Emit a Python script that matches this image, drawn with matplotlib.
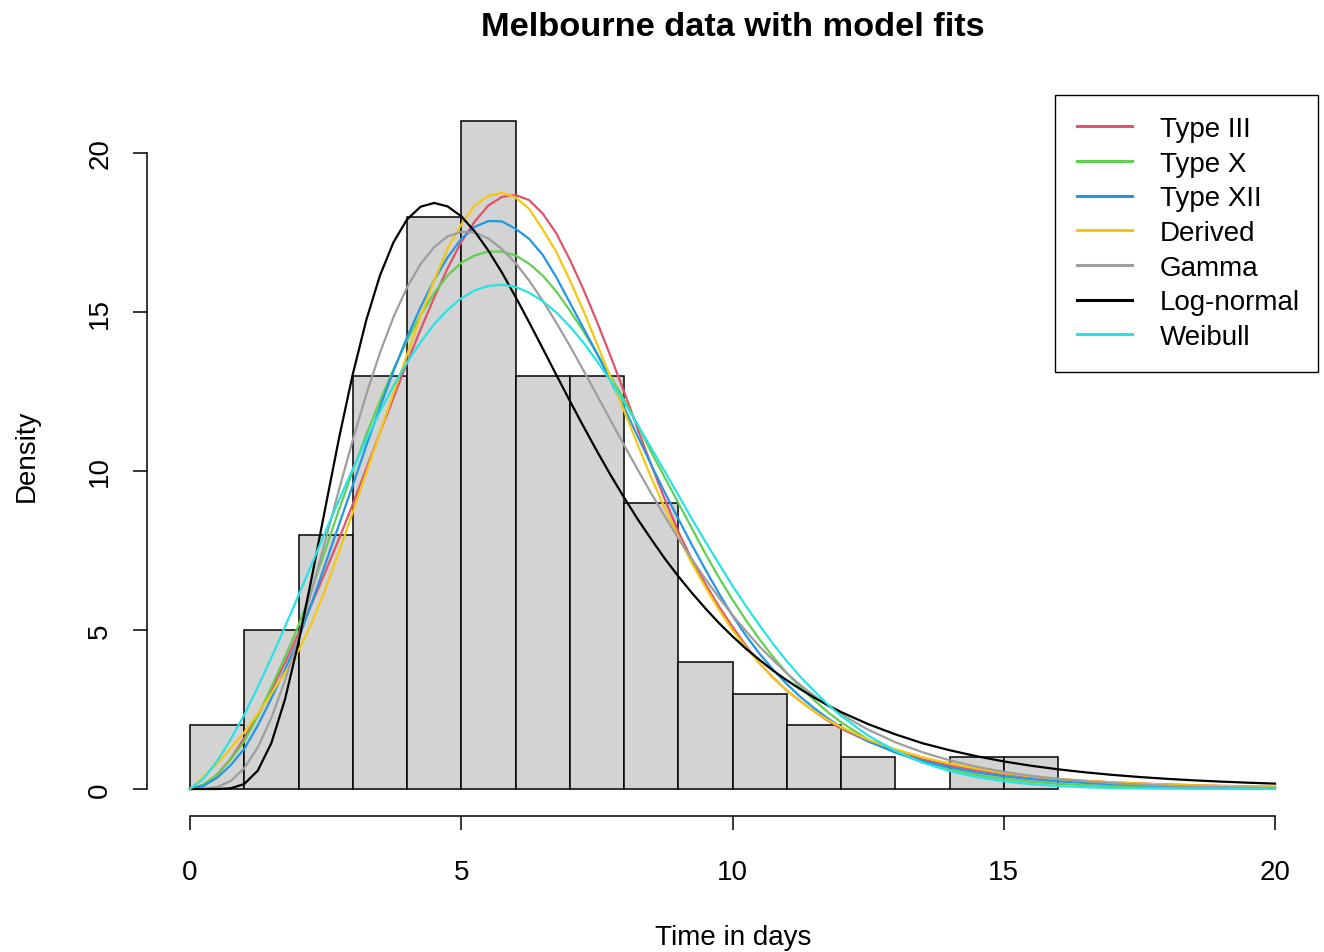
import numpy as np
import matplotlib.pyplot as plt

plt.rcParams['font.family'] = ['Liberation Sans', 'DejaVu Sans']

# histogram of the Melbourne data (counts per 1-day bin)
bin_left = list(range(0, 16))
counts = [2, 5, 8, 13, 18, 21, 13, 13, 9, 4, 3, 2, 1, 0, 1, 1]

# fitted curves: every quarter day up to 12, then every half day to 20
days = np.concatenate([np.linspace(0, 12, 49), np.linspace(12.5, 20, 16)])

type_iii = [0, 0.12, 0.45, 0.95, 1.6, 2.32, 3.1, 3.97, 4.9, 5.85, 6.85, 7.88, 8.95, 10.07,
            11.2, 12.3, 13.4, 14.45, 15.45, 16.38, 17.2, 17.85, 18.35, 18.62, 18.68, 18.52,
            18.1, 17.48, 16.65, 15.72, 14.7, 13.62, 12.5, 11.33, 10.2, 9.12, 8.1, 7.22, 6.45,
            5.74, 5.1, 4.5, 3.95, 3.5, 3.1, 2.76, 2.45, 2.16, 1.9,
            1.5, 1.18, 0.93, 0.74, 0.59, 0.47, 0.38, 0.31, 0.255, 0.21, 0.175, 0.145, 0.12,
            0.10, 0.085, 0.07]
type_x = [0, 0.14, 0.45, 0.93, 1.5, 2.3, 3.2, 4.15, 5.14, 6.32, 7.55, 8.8, 10.0, 11.15, 12.2,
          13.2, 14.1, 14.9, 15.6, 16.15, 16.55, 16.78, 16.9, 16.9, 16.78, 16.52, 16.15, 15.65,
          15.05, 14.4, 13.7, 12.98, 12.25, 11.45, 10.6, 9.8, 9.0, 8.2, 7.4, 6.65, 5.95, 5.3,
          4.7, 4.15, 3.65, 3.2, 2.8, 2.43, 2.1,
          1.55, 1.15, 0.84, 0.61, 0.44, 0.32, 0.23, 0.165, 0.12, 0.09, 0.065, 0.048, 0.036,
          0.027, 0.02, 0.015]
type_xii = [0, 0.1, 0.35, 0.75, 1.26, 2.0, 2.85, 3.75, 4.72, 5.88, 7.1, 8.33, 9.55, 10.8, 12.0,
            13.14, 14.2, 15.15, 16.0, 16.72, 17.3, 17.68, 17.86, 17.85, 17.62, 17.3, 16.8, 16.1,
            15.3, 14.5, 13.7, 12.85, 12.0, 11.1, 10.2, 9.33, 8.5, 7.68, 6.9, 6.15, 5.45, 4.82,
            4.25, 3.75, 3.3, 2.9, 2.55, 2.23, 1.95,
            1.5, 1.15, 0.88, 0.68, 0.52, 0.40, 0.31, 0.24, 0.19, 0.15, 0.12, 0.095, 0.077,
            0.063, 0.052, 0.043]
derived = [0, 0.38, 0.8, 1.28, 1.78, 2.37, 3.0, 3.65, 4.35, 5.25, 6.3, 7.48, 8.7, 9.95, 11.2,
           12.45, 13.65, 14.87, 16.0, 17.0, 17.75, 18.35, 18.65, 18.75, 18.6, 18.25, 17.6, 16.9,
           16.0, 15.05, 14.0, 12.95, 11.9, 10.84, 9.8, 8.84, 7.95, 7.1, 6.35, 5.64, 5.0, 4.45,
           3.95, 3.5, 3.1, 2.76, 2.45, 2.18, 1.95,
           1.55, 1.25, 1.0, 0.8, 0.64, 0.5, 0.4, 0.32, 0.26, 0.21, 0.17, 0.14, 0.115, 0.095,
           0.08, 0.065]
gamma = [0, 0.005, 0.061, 0.252, 0.654, 1.311, 2.234, 3.399, 4.761, 6.266, 7.845, 9.43, 10.97,
         12.41, 13.71, 14.84, 15.77, 16.51, 17.04, 17.38, 17.52, 17.50, 17.31, 16.98, 16.54,
         15.99, 15.36, 14.67, 13.94, 13.17, 12.39, 11.60, 10.82, 10.05, 9.30, 8.58, 7.89, 7.23,
         6.60, 6.02, 5.47, 4.96, 4.48, 4.05, 3.64, 3.27, 2.94, 2.63, 2.35,
         1.865, 1.472, 1.155, 0.901, 0.699, 0.540, 0.415, 0.318, 0.243, 0.185, 0.140, 0.106,
         0.080, 0.060, 0.045, 0.034]
lognormal = [0, 0, 0, 0.021, 0.157, 0.580, 1.445, 2.813, 4.61, 6.70, 8.89, 11.06, 13.04, 14.75,
             16.14, 17.19, 17.91, 18.31, 18.43, 18.32, 18.01, 17.53, 16.93, 16.24, 15.48, 14.68,
             13.86, 13.03, 12.21, 11.41, 10.63, 9.88, 9.17, 8.49, 7.86, 7.25, 6.69, 6.17, 5.68,
             5.22, 4.80, 4.41, 4.06, 3.72, 3.42, 3.14, 2.88, 2.64, 2.42,
             2.04, 1.72, 1.44, 1.22, 1.03, 0.867, 0.732, 0.619, 0.524, 0.444, 0.377, 0.320,
             0.272, 0.232, 0.198, 0.169]
weibull = [0, 0.326, 0.876, 1.56, 2.33, 3.207, 4.13, 5.095, 6.09, 7.095, 8.11, 9.097, 10.06,
           10.99, 11.86, 12.67, 13.41, 14.05, 14.61, 15.07, 15.43, 15.68, 15.82, 15.86, 15.79,
           15.61, 15.34, 14.99, 14.55, 14.04, 13.46, 12.84, 12.16, 11.46, 10.73, 9.99, 9.25,
           8.50, 7.78, 7.08, 6.39, 5.75, 5.14, 4.56, 4.02, 3.53, 3.09, 2.67, 2.30,
           1.68, 1.20, 0.833, 0.565, 0.374, 0.241, 0.152, 0.093, 0.055, 0.032, 0.018, 0.010,
           0.005, 0.003, 0.0015, 0.001]

labels = ["Type III", "Type X", "Type XII", "Derived", "Gamma", "Log-normal", "Weibull"]
colors = ["#DF536B", "#61D04F", "#2297E6", "#F5C710", "#9E9E9E", "#000000", "#28E2E5"]
curves = [type_iii, type_x, type_xii, derived, gamma, lognormal, weibull]

W, H = 1324, 953
fig = plt.figure(figsize=(W / 100, H / 100), dpi=100)
ax = fig.add_axes([146.6 / W, 1 - 816.7 / H, (1318.4 - 146.6) / W, (816.7 - 95.5) / H])

ax.bar(bin_left, counts, width=1, align='edge', color='#D3D3D3',
       edgecolor='black', linewidth=1.1)
for vals, col, lab in zip(curves, colors, labels):
    ax.plot(days, vals, color=col, lw=1.6, label=lab)

ax.set_xlim(-0.8, 20.8)
ax.set_ylim(-0.84, 21.84)
for s in ['top', 'right']:
    ax.spines[s].set_visible(False)
ax.spines['bottom'].set_bounds(0, 20)
ax.spines['left'].set_bounds(0, 20)
for s in ['bottom', 'left']:
    ax.spines[s].set_linewidth(1.1)

ax.set_xticks([0, 5, 10, 15, 20])
ax.set_yticks([0, 5, 10, 15, 20])
ax.tick_params(axis='both', length=10, width=1.1, labelsize=20)
ax.tick_params(axis='x', pad=21)
ax.tick_params(axis='y', pad=14)
for lab in ax.get_yticklabels():
    lab.set_rotation(90)
    lab.set_va('center')

x0 = (1055 - 146.6) / (1318.4 - 146.6)
wd = (1318.4 - 1055) / (1318.4 - 146.6)
leg = ax.legend(loc='upper left', bbox_to_anchor=(x0, 0, wd, 1.0), mode='expand',
                borderaxespad=0, fontsize=20, frameon=True, fancybox=False,
                edgecolor='black', framealpha=1, handlelength=2.0, handletextpad=1.0,
                labelspacing=0.31, borderpad=0.78)
leg.get_frame().set_linewidth(1.0)
for ln in leg.get_lines():
    ln.set_linewidth(2.2)

fig.text(733 / W, 1 - 27 / H, "Melbourne data with model fits", ha='center', va='center',
         fontsize=24.75, fontweight='bold')
fig.text(733 / W, 1 - 938 / H, "Time in days", ha='center', va='center', fontsize=20)
fig.text(27 / W, 1 - 456 / H, "Density", ha='center', va='center', fontsize=20, rotation=90)

fig.savefig("out.png", dpi=100)
